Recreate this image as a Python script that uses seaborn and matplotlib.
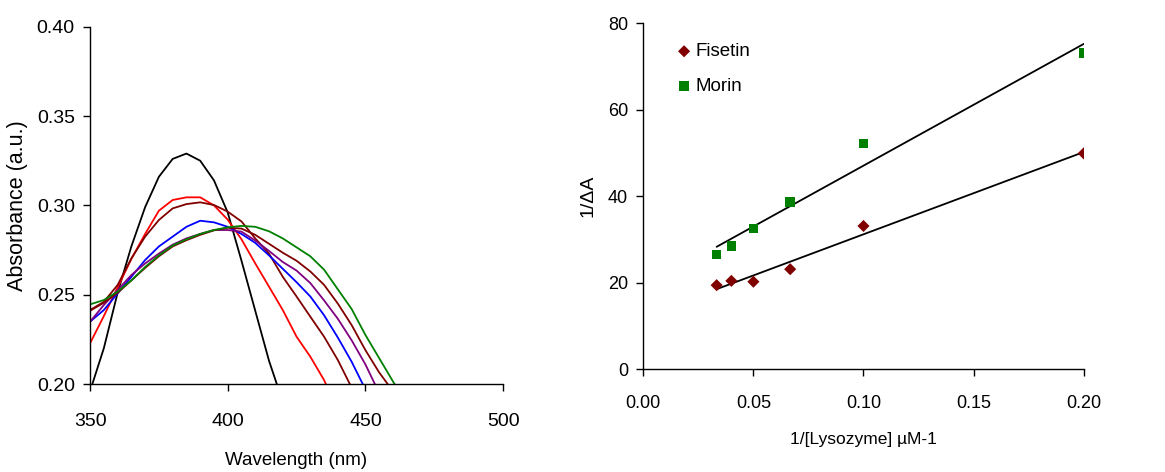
import numpy as np
import pandas as pd
import matplotlib
matplotlib.use("Agg")
import matplotlib.pyplot as plt
import seaborn as sns

# --- absorption spectra (left panel) ---
wavelength = [350, 355, 360, 365, 370, 375, 380, 385, 390, 395, 400, 405,
              410, 415, 420, 425, 430, 435, 440, 445, 450, 455, 460, 465]
nan = np.nan
abs_black = [0.196, 0.220, 0.251, 0.277, 0.299, 0.316, 0.326, 0.329, 0.325, 0.314, 0.296, 0.269,
             0.241, 0.213, 0.190, nan, nan, nan, nan, nan, nan, nan, nan, nan]
abs_red = [0.2228, 0.238, 0.254, 0.270, 0.284, 0.297, 0.303, 0.3045, 0.3045, 0.300, 0.292, 0.281,
           0.2675, 0.2545, 0.2414, 0.2265, 0.2153, 0.2022, 0.185, nan, nan, nan, nan, nan]
abs_maroon1 = [0.2414, 0.246, 0.2554, 0.2703, 0.2825, 0.2918, 0.2983, 0.3007, 0.3017, 0.3002, 0.2965, 0.291,
               0.2815, 0.273, 0.260, 0.249, 0.2377, 0.2265, 0.2134, 0.198, nan, nan, nan, nan]
abs_blue = [0.2349, 0.2414, 0.2507, 0.260, 0.2694, 0.277, 0.2825, 0.288, 0.2914, 0.2905, 0.288, 0.284,
            0.279, 0.272, 0.2645, 0.257, 0.249, 0.2385, 0.226, 0.2125, 0.197, nan, nan, nan]
abs_purple = [0.2349, 0.2442, 0.2526, 0.261, 0.2675, 0.273, 0.278, 0.2815, 0.284, 0.2862, 0.2862, 0.2853,
              0.2803, 0.2745, 0.2683, 0.2635, 0.2565, 0.2468, 0.2365, 0.2245, 0.211, 0.195, nan, nan]
abs_maroon2 = [0.241, 0.2455, 0.251, 0.258, 0.265, 0.2715, 0.277, 0.2805, 0.2835, 0.286, 0.2875, 0.287,
               0.2835, 0.2785, 0.2735, 0.269, 0.263, 0.2555, 0.245, 0.233, 0.219, 0.2065, 0.196, nan]
abs_green = [0.2446, 0.247, 0.2517, 0.258, 0.2655, 0.272, 0.2775, 0.281, 0.284, 0.2862, 0.2877, 0.2885,
             0.288, 0.2855, 0.2815, 0.2765, 0.2715, 0.264, 0.253, 0.242, 0.2275, 0.2145, 0.2015, 0.189]

spectra = {"s0": abs_black, "s1": abs_red, "s2": abs_maroon1, "s3": abs_blue,
           "s4": abs_purple, "s5": abs_maroon2, "s6": abs_green}
spec_colors = {"s0": "#000000", "s1": "#ff0000", "s2": "#800000", "s3": "#0000ff",
               "s4": "#800080", "s5": "#800000", "s6": "#008000"}

# --- double reciprocal plot (right panel) ---
inv_lysozyme = [0.0333, 0.04, 0.05, 0.0667, 0.10, 0.20]
fisetin = [19.4, 20.4, 20.2, 23.1, 33.1, 49.9]
morin = [26.5, 28.5, 32.5, 38.6, 52.2, 73.1]

sns.set_style("ticks")
plt.rcParams['font.family'] = ['Liberation Sans', 'DejaVu Sans']
plt.rcParams['text.color'] = 'black'
plt.rcParams['axes.labelcolor'] = 'black'
plt.rcParams['xtick.color'] = 'black'
plt.rcParams['ytick.color'] = 'black'

fig = plt.figure(figsize=(11.65, 4.72), dpi=100)
ax1 = fig.add_axes([0.0773, 0.1864, 0.3545, 0.757])
ax2 = fig.add_axes([0.5522, 0.2182, 0.378, 0.7324])

# left panel
rows = []
for key, vals in spectra.items():
    for w, a in zip(wavelength, vals):
        rows.append((key, w, a))
df_spec = pd.DataFrame(rows, columns=["curve", "wavelength", "absorbance"]).dropna()
sns.lineplot(data=df_spec, x="wavelength", y="absorbance", hue="curve",
             palette=spec_colors, hue_order=list(spectra.keys()),
             linewidth=1.3, legend=False, ax=ax1, sort=False)
ax1.set_xlim(350, 500)
ax1.set_ylim(0.20, 0.40)
ax1.set_xticks([350, 400, 450, 500])
ax1.set_yticks([0.20, 0.25, 0.30, 0.35, 0.40])
ax1.yaxis.set_major_formatter(matplotlib.ticker.FormatStrFormatter('%.2f'))
ax1.set_xlabel("Wavelength (nm)", fontsize=13.5, labelpad=16)
ax1.set_ylabel("Absorbance (a.u.)", fontsize=15.5, labelpad=6)
ax1.tick_params(axis='both', labelsize=14, length=5, width=1)
ax1.tick_params(axis='x', pad=16)
ax1.tick_params(axis='y', pad=6)

# right panel
df_f = pd.DataFrame({"x": inv_lysozyme, "y": fisetin})
df_m = pd.DataFrame({"x": inv_lysozyme, "y": morin})
sns.regplot(data=df_f, x="x", y="y", ci=None, scatter=False, color="black",
            line_kws={"linewidth": 1.3}, ax=ax2)
sns.regplot(data=df_m, x="x", y="y", ci=None, scatter=False, color="black",
            line_kws={"linewidth": 1.3}, ax=ax2)
sns.scatterplot(data=df_f, x="x", y="y", marker="D", s=38, color="#800000",
                edgecolor="none", label="Fisetin", ax=ax2, zorder=3)
sns.scatterplot(data=df_m, x="x", y="y", marker="s", s=48, color="#008000",
                edgecolor="none", label="Morin", ax=ax2, zorder=3)
ax2.set_xlim(0, 0.20)
ax2.set_ylim(0, 80)
ax2.set_xticks([0.00, 0.05, 0.10, 0.15, 0.20])
ax2.set_yticks([0, 20, 40, 60, 80])
ax2.xaxis.set_major_formatter(matplotlib.ticker.FormatStrFormatter('%.2f'))
ax2.set_xlabel("1/[Lysozyme] µM-1", fontsize=12.5, labelpad=14)
ax2.set_ylabel("1/ΔA", fontsize=14, labelpad=8)
ax2.tick_params(axis='both', labelsize=13, length=5, width=1)
ax2.tick_params(axis='x', pad=14)
ax2.tick_params(axis='y', pad=6)
ax2.legend(loc="upper left", bbox_to_anchor=(0.05, 0.97), frameon=False,
           fontsize=13.5, handletextpad=0.1, labelspacing=0.95, handlelength=1.0,
           borderpad=0)

for ax in (ax1, ax2):
    sns.despine(ax=ax)
    for sp in ax.spines.values():
        sp.set_linewidth(1)
        sp.set_color('black')

fig.savefig("out.png", dpi=100)
